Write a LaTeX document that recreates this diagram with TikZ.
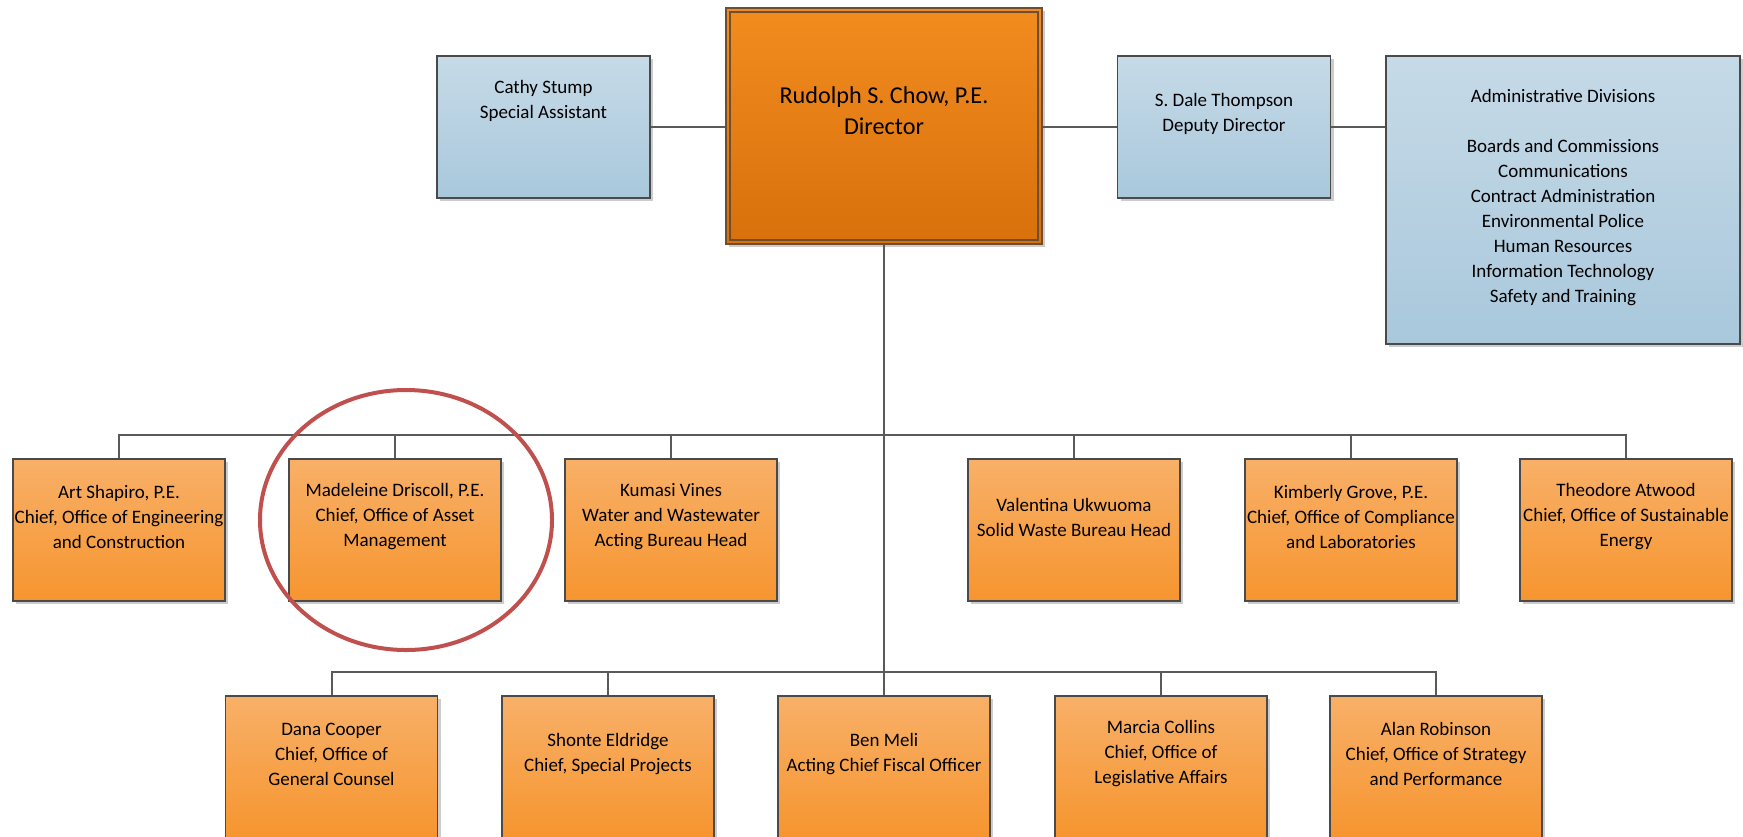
\documentclass[tikz,border=0pt]{standalone}
\usepackage{fontspec}
\setmainfont{Carlito}
\usetikzlibrary{shadows}

\definecolor{boxline}{HTML}{4A4A4A}
\definecolor{linegray}{HTML}{5A5A5A}
\definecolor{blueT}{HTML}{C6DAE7}
\definecolor{blueB}{HTML}{A9C8DC}
\definecolor{orT}{HTML}{F8B068}
\definecolor{orB}{HTML}{F6952F}
\definecolor{dirT}{HTML}{F28C1F}
\definecolor{dirB}{HTML}{D8700B}
\definecolor{dirline}{HTML}{6E4E30}
\definecolor{markred}{HTML}{C0504D}

\begin{document}
\begin{tikzpicture}[x=0.5pt, y=-0.5pt]
% Styles
\tikzstyle{box} = [rectangle, draw=boxline, line width=0.9pt, inner sep=0pt, drop shadow={shadow xshift=1.5pt, shadow yshift=-1.5pt, opacity=0.4}]
\tikzstyle{staff} = [box, top color=blueT, bottom color=blueB, minimum width=106.5pt, minimum height=71pt]
\tikzstyle{chief} = [box, top color=orT, bottom color=orB, minimum width=106pt, minimum height=71pt]
\tikzstyle{txt} = [align=center, font=\fontsize{9.5}{12.5}\selectfont, yshift=6.5pt]
\tikzstyle{link} = [draw=linegray, line width=1pt]

\useasboundingbox (0,0) rectangle (1743,836);
\clip (0,0) rectangle (1743,836);

% Top row
\node (dir) [box, draw=dirline, line width=1.2pt, top color=dirT, bottom color=dirB, minimum width=158pt, minimum height=118pt,
  label={[txt, font=\fontsize{12.1}{15.5}\selectfont, yshift=1pt]center:{Rudolph S. Chow, P.E.\\Director}}] at (884,126) {};
\node (cathy) [staff, label={[txt, yshift=6.6pt]center:{Cathy Stump\\Special Assistant}}] at (543.5,127) {};
\node (dale) [staff, label={[txt]center:{S. Dale Thompson\\Deputy Director}}] at (1224,127) {};
\node (admin) [staff, minimum width=177pt, minimum height=144pt,
  label={[txt, yshift=-5.3pt]center:{Administrative Divisions\\ \\Boards and Commissions\\Communications\\Contract Administration\\Environmental Police\\Human Resources\\Information Technology\\Safety and Training}}] at (1563,200) {};

% First row of chiefs
\node (art) [chief, label={[txt]center:{Art Shapiro, P.E.\\Chief, Office of Engineering\\and Construction}}] at (119,530) {};
\node (mad) [chief, label={[txt]center:{Madeleine Driscoll, P.E.\\Chief, Office of Asset\\Management}}] at (395,530) {};
\node (kum) [chief, label={[txt]center:{Kumasi Vines\\Water and Wastewater\\Acting Bureau Head}}] at (671,530) {};
\node (val) [chief, label={[txt]center:{Valentina Ukwuoma\\Solid Waste Bureau Head}}] at (1074,530) {};
\node (kim) [chief, label={[txt]center:{Kimberly Grove, P.E.\\Chief, Office of Compliance\\and Laboratories}}] at (1351,530) {};
\node (theo) [chief, label={[txt]center:{Theodore Atwood\\Chief, Office of Sustainable\\Energy}}] at (1626,530) {};

% Second row of chiefs
\node (dana) [chief, label={[txt]center:{Dana Cooper\\Chief, Office of\\General Counsel}}] at (331.5,767) {};
\node (shonte) [chief, label={[txt]center:{Shonte Eldridge\\Chief, Special Projects}}] at (608,767) {};
\node (ben) [chief, label={[txt]center:{Ben Meli\\Acting Chief Fiscal Officer}}] at (884,767) {};
\node (marcia) [chief, label={[txt]center:{Marcia Collins\\Chief, Office of\\Legislative Affairs}}] at (1161,767) {};
\node (alan) [chief, label={[txt]center:{Alan Robinson\\Chief, Office of Strategy\\and Performance}}] at (1436,767) {};

% Director frame
\draw [dirline, line width=0.8pt] ([shift={(2.5pt,-2.5pt)}]dir.north west) rectangle ([shift={(-2.5pt,2.5pt)}]dir.south east);

% Lines
\coordinate (bus1) at (884,435);
\coordinate (bus2) at (884,672);
\draw [link] (cathy.east) -- (cathy.east -| dir.west);
\draw [link] (dale.west) -- (dale.west -| dir.east);
\draw [link] (dale.east) -- (dale.east -| admin.west);
\draw [link] (dir.south) -- (ben.north);
\draw [link] (art.north) |- (bus1) -| (theo.north);
\foreach \n in {mad,kum,val,kim}
  \draw [link] (\n.north) -- (\n.north |- bus1);
\draw [link] (dana.north) |- (bus2) -| (alan.north);
\foreach \n in {shonte,marcia}
  \draw [link] (\n.north) -- (\n.north |- bus2);

% Mark
\draw [markred, line width=2pt] (406,520) ellipse [x radius=73pt, y radius=65pt];

\end{tikzpicture}
\end{document}
